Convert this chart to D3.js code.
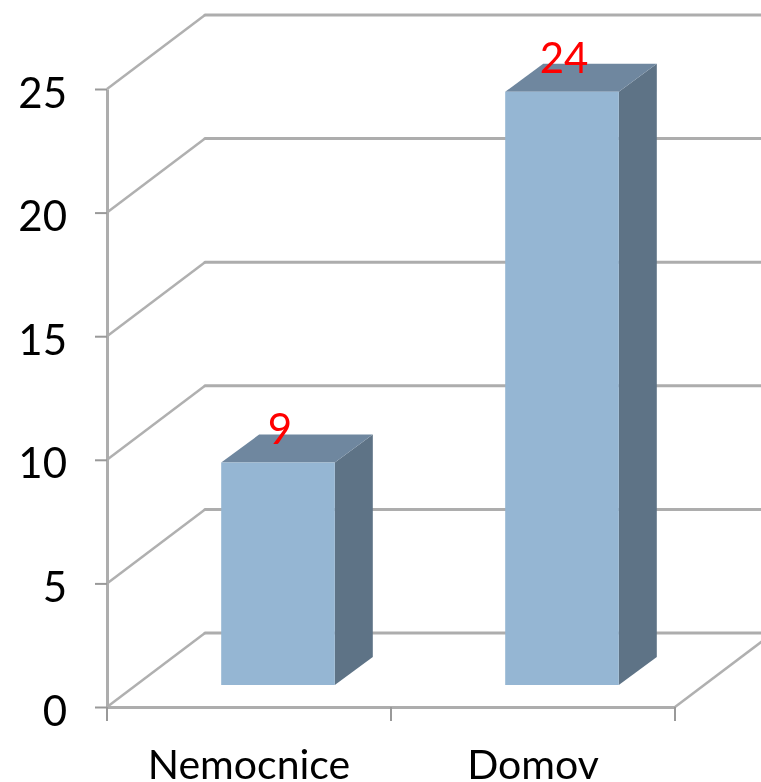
<!DOCTYPE html>
<html>
<head>
<meta charset="utf-8">
<script src="https://cdn.jsdelivr.net/npm/d3@7"></script>
<style>
  html, body { margin: 0; padding: 0; background: #fff; overflow: hidden; }
  /* the reference is a soft, upscaled picture */
  svg { display: block; filter: blur(0.6px); }
  text { font-family: Lato, "Open Sans", sans-serif; }
</style>
</head>
<body>
<svg width="761" height="782"></svg>
<script>
const categories = ["Nemocnice", "Domov"];
const values = [9, 24];
const dataLabels = ["9", "24"];
const yTicks = [0, 5, 10, 15, 20, 25];

const svg = d3.select("svg");

const y = d3.scaleLinear().domain([0, 25]).range([707, 89]);
const x = d3.scaleBand().domain(categories).range([107, 675]);

// depth of the floor, and how far the bars sit in and go back
const wallDx = 98, wallDy = -74;
const barInDx = 29, barInDy = -22;
const barDx = 38, barDy = -28;
const barWidth = x.bandwidth() * 0.4;

// side wall and back wall lines
const walls = svg.append("g").attr("id", "walls");

walls
  .selectAll("line.side")
  .data(yTicks)
  .enter()
  .append("line")
  .attr("class", "side")
  .attr("x1", x.range()[0])
  .attr("y1", (d) => y(d))
  .attr("x2", x.range()[0] + wallDx)
  .attr("y2", (d) => y(d) + wallDy)
  .attr("stroke", "#b0b0b0")
  .attr("stroke-width", 2.5);

walls
  .selectAll("line.back")
  .data(yTicks)
  .enter()
  .append("line")
  .attr("class", "back")
  .attr("x1", x.range()[0] + wallDx)
  .attr("y1", (d) => y(d) + wallDy)
  .attr("x2", x.range()[1] + wallDx)
  .attr("y2", (d) => y(d) + wallDy)
  .attr("stroke", "#adadad")
  .attr("stroke-width", 3)
  .attr("stroke-linecap", "round");

// right edge of the floor
walls
  .append("line")
  .attr("x1", x.range()[1])
  .attr("y1", y(0))
  .attr("x2", x.range()[1] + wallDx)
  .attr("y2", y(0) + wallDy)
  .attr("stroke", "#b0b0b0")
  .attr("stroke-width", 2.5);

// axes
const axisLeft = svg
  .append("g")
  .attr("transform", `translate(${x.range()[0]},0)`)
  .call(d3.axisLeft(y).tickValues(yTicks).tickSize(12).tickPadding(28).tickSizeOuter(0));

const axisBottom = svg
  .append("g")
  .attr("transform", `translate(0,${y(0)})`)
  .call(d3.axisBottom(x).tickSize(0).tickPadding(0));

[axisLeft, axisBottom].forEach((a) => {
  a.select(".domain").attr("stroke", "#adadad").attr("stroke-width", 3);
  a.selectAll("line").attr("stroke", "#999").attr("stroke-width", 2);
});

axisLeft
  .selectAll("text")
  .attr("font-size", 42)
  .attr("fill", "#000")
  .attr("dy", 18)
  .style("font-family", "Lato");

axisBottom
  .selectAll("text")
  .attr("font-size", 41)
  .attr("fill", "#000")
  .attr("dy", 0)
  .attr("y", 72)
  .style("font-family", "Lato");

// category boundary ticks
axisBottom
  .selectAll("line.cat")
  .data(x.domain().map((d) => x(d)).concat(x.range()[1]))
  .enter()
  .append("line")
  .attr("class", "cat")
  .attr("x1", (d) => d)
  .attr("x2", (d) => d)
  .attr("y1", 0)
  .attr("y2", 14)
  .attr("stroke", "#999")
  .attr("stroke-width", 2);

// bars
const rows = categories.map((c, i) => ({ c: c, v: values[i], label: dataLabels[i] }));
const barLeft = (d) => x(d.c) + x.bandwidth() / 2 - barWidth / 2 + barInDx;
const barTop = (d) => y(d.v) + barInDy;
const barBottom = y(0) + barInDy;

const bars = svg.append("g").attr("id", "bars").selectAll("g").data(rows).enter().append("g");

bars
  .append("path")
  .attr("fill", "#5e7386")
  .attr("d", (d) => {
    const r = barLeft(d) + barWidth;
    return `M${r} ${barTop(d)}L${r + barDx} ${barTop(d) + barDy}L${r + barDx} ${barBottom + barDy}L${r} ${barBottom}Z`;
  });

bars
  .append("path")
  .attr("fill", "#6f879f")
  .attr("d", (d) => {
    const l = barLeft(d);
    const t = barTop(d);
    return `M${l} ${t}L${l + barDx} ${t + barDy}L${l + barWidth + barDx} ${t + barDy}L${l + barWidth} ${t}Z`;
  });

bars
  .append("rect")
  .attr("fill", "#95b6d3")
  .attr("x", barLeft)
  .attr("y", barTop)
  .attr("width", barWidth)
  .attr("height", (d) => barBottom - barTop(d));

bars
  .append("text")
  .attr("x", (d) => barLeft(d) + barWidth / 2 + 2)
  .attr("y", (d) => barTop(d) - 19)
  .attr("text-anchor", "middle")
  .attr("font-size", 42)
  .attr("fill", "#ff0000")
  .text((d) => d.label);
</script>
</body>
</html>
